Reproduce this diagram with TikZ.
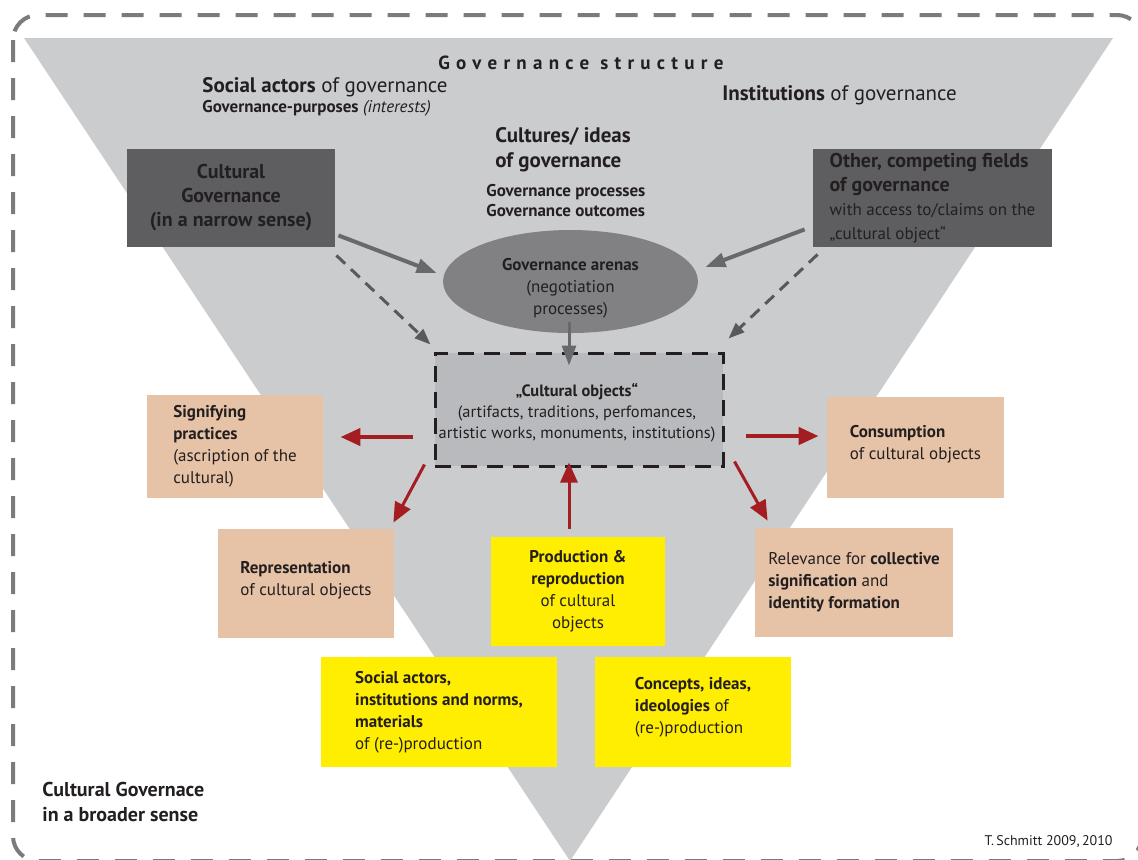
\documentclass[tikz,border=0pt]{standalone}
\usepackage{fontspec}
\setmainfont{PT Sans}
\usetikzlibrary{arrows.meta,calc,shapes.geometric}

\definecolor{ink}{HTML}{231F20}
\definecolor{frameGray}{HTML}{7B7B7D}
\definecolor{triGray}{HTML}{CBCCCE}
\definecolor{fieldGray}{HTML}{5E5E60}
\definecolor{arenaGray}{HTML}{818184}
\definecolor{objGray}{HTML}{B9BABD}
\definecolor{arrowGray}{HTML}{68696C}
\definecolor{tan}{HTML}{E6C3A6}
\definecolor{signalYellow}{HTML}{FFEE00}
\definecolor{darkRed}{HTML}{A31D22}

\begin{document}
\begin{tikzpicture}[x=0.5pt,y=-0.5pt,
    every node/.style={text=ink, inner sep=0pt},
    small/.style={font=\fontsize{8.5}{11}\selectfont},
    smallbold/.style={font=\fontsize{8.5}{10}\selectfont\bfseries},
    big/.style={font=\fontsize{10.5}{12.5}\selectfont},
    fieldbox/.style={fill=fieldGray, font=\fontsize{10}{12}\selectfont},
    tanbox/.style={fill=tan, small, align=left},
    yellowbox/.style={fill=signalYellow, small, align=left},
    grayarrow/.style={draw=arrowGray, line width=2pt, -{Triangle[length=10pt,width=7pt]}},
    dasharrow/.style={draw=arrowGray!85!black, line width=1.5pt, dash pattern=on 6pt off 4pt, -{Triangle[length=8pt,width=6pt]}},
    redarrow/.style={draw=darkRed, line width=1.5pt, -{Triangle[length=10pt,width=8.5pt]}}]

    \useasboundingbox (0,0) rectangle (1138,859);
    \clip (0,0) rectangle (1138,859);

    % outer frame and triangle
    \draw[frameGray, line width=2pt, dash pattern=on 11pt off 8pt, rounded corners=12.5pt] (13,15) rectangle (1142,861);
    \fill[triGray] (24,38) -- (1113,38) -- (570,861) -- cycle;

    % governance structure
    \node (title) at (584,63) {\fontsize{9.5}{11}\selectfont\addfontfeature{LetterSpace=33}\textbf{Governance structure}};
    \node[anchor=west, big] (actors) at (202,87) {\textbf{Social actors} of governance};
    \node[anchor=west, small] (purposes) at (202,108) {\textbf{Governance-purposes} \textit{(interests)}};
    \node[anchor=west, big] (institutions) at (722,95) {\textbf{Institutions} of governance};
    \node[anchor=west, align=left, font=\fontsize{10.5}{12.5}\selectfont\bfseries] (cultures) at (495,150) {Cultures/ ideas\\of governance};
    \node[anchor=west, align=left, smallbold] (processes) at (486,201) {Governance processes\\Governance outcomes};

    \node[fieldbox, align=center, minimum width=104pt, minimum height=49pt, font=\bfseries] (narrow) at (231,198) {Cultural\\Governance\\(in a narrow sense)};
    \node[fieldbox, align=left, minimum width=119.5pt, minimum height=49pt] (other) at (932.5,198)
        {\textbf{Other, competing fields}\\\textbf{of governance}\\{\fontsize{8.5}{10}\selectfont with access to/claims on the}\\{\fontsize{8.5}{10}\selectfont„cultural object“}};

    \node[ellipse, fill=arenaGray, minimum width=127.5pt, minimum height=51.5pt] (arena) at (570.5,281.5) {};
    \node[small, align=center] (arenatext) at (570.5,288) {\textbf{Governance arenas}\\(negotiation\\processes)};

    \node[fill=objGray, draw=ink, line width=1.5pt, dash pattern=on 8pt off 5pt, minimum width=144pt, minimum height=56.5pt] (objects) at (579,409.5) {};
    \node[font=\fontsize{8.2}{10.5}\selectfont, align=center] (objectstext) at (577,413) {\textbf{„Cultural objects“}\\(artifacts, traditions, perfomances,\\artistic works, monuments, institutions)};

    % fields around the objects
    \node[tanbox, minimum width=88pt, minimum height=51.5pt] (signif) at (235,446.5) {\textbf{Signifying}\\\textbf{practices}\\(ascription of the\\cultural)};
    \node[tanbox, minimum width=88.5pt, minimum height=50.5pt] (consum) at (915.5,447.5) {\textbf{Consumption}\\of cultural objects\\[-6pt]};
    \node[tanbox, minimum width=88pt, minimum height=54.5pt] (repres) at (306,583.5) {\textbf{Representation}\\of cultural objects\\[-6pt]};
    \node[tanbox, minimum width=99pt, minimum height=54.5pt] (relev) at (854,582.5) {Relevance for \textbf{collective}\\\textbf{signification} and\\\textbf{identity formation}};
    \node[yellowbox, align=center, minimum width=87pt, minimum height=54.5pt] (prod) at (578,591.5) {\textbf{Production \&}\\\textbf{reproduction}\\of cultural\\objects};
    \node[yellowbox, minimum width=118pt, minimum height=55pt] (socact) at (439,712) {\textbf{Social actors,}\\\textbf{institutions and norms,}\\\textbf{materials}\\of (re-)production};
    \node[yellowbox, minimum width=98pt, minimum height=55pt] (concept) at (693,712) {\textbf{Concepts, ideas,}\\\textbf{ideologies} of\\(re-)production\\[-4pt]};

    \node[anchor=west, align=left, font=\fontsize{10}{12.5}\selectfont\bfseries] (broader) at (42,802) {Cultural Governace\\in a broader sense};
    \node[anchor=east, font=\fontsize{7}{8}\selectfont] (credit) at (1113,842) {T.\,Schmitt 2009,\,2010};

    % connectors
    \draw[grayarrow] ($(narrow.south east)+(3,-12)$) -- ($(arena.west)+(-6,-8.5)$);
    \draw[grayarrow] ($(other.south west)+(-8,-18)$) -- ($(arena.east)+(7,-14.5)$);
    \draw[grayarrow, line width=1.5pt] ($(arena.south)+(-1.5,-11)$) -- ($(objects.north)+(-10,14)$);
    \draw[dasharrow] ($(narrow.south east)+(1,8)$) -- ($(objects.north west)+(-3,-7)$);
    \draw[dasharrow] ($(other.south west)+(5,7)$) -- ($(objects.north east)+(4,-13)$);

    \draw[redarrow, line width=2.2pt] ($(objects.west)+(-21,27.5)$) -- ($(signif.east)+(17,-9.5)$);
    \draw[redarrow, line width=2.2pt] ($(objects.east)+(21,26.5)$) -- ($(consum.west)+(-8,-11.5)$);
    \draw[redarrow] ($(objects.south west)+(-9,-3)$) -- ($(repres.north east)+(-1,-6)$);
    \draw[redarrow] ($(objects.south east)+(10,-6)$) -- ($(relev.north west)+(13,-7)$);
    \draw[redarrow] ($(prod.north)+(-9,-8)$) -- ($(objects.south)+(-10,-5)$);
\end{tikzpicture}
\end{document}
